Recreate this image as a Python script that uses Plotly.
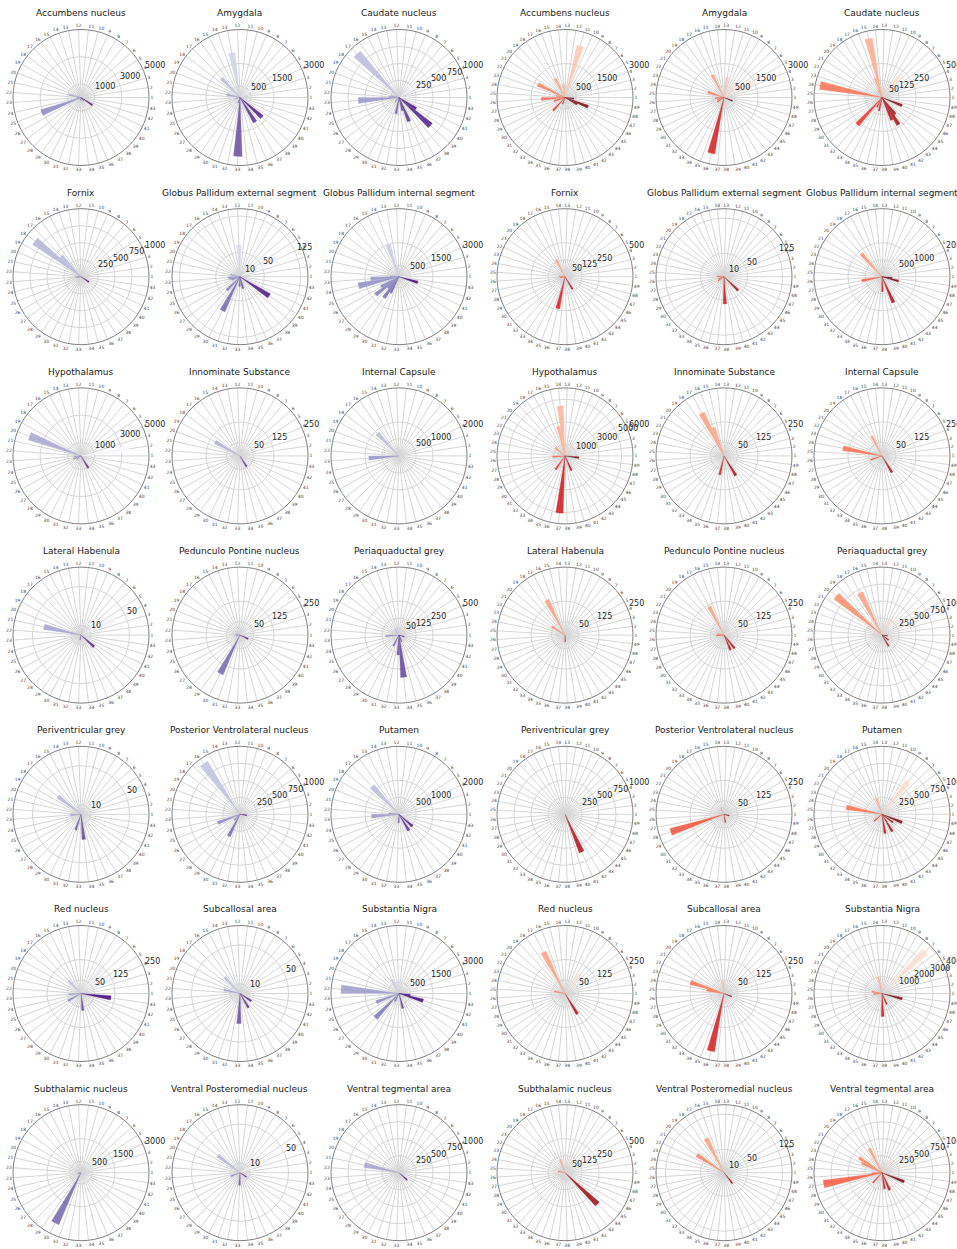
import math
import plotly.graph_objects as go
from plotly.colors import sample_colorscale

W, H = 957, 1249

REGIONS = ["Accumbens nucleus", "Amygdala", "Caudate nucleus",
           "Fornix", "Globus Pallidum external segment", "Globus Pallidum internal segment",
           "Hypothalamus", "Innominate Substance", "Internal Capsule",
           "Lateral Habenula", "Pedunculo Pontine nucleus", "Periaquaductal grey",
           "Periventricular grey", "Posterior Ventrolateral nucleus", "Putamen",
           "Red nucleus", "Subcallosal area", "Substantia Nigra",
           "Subthalamic nucleus", "Ventral Posteromedial nucleus", "Ventral tegmental area"]

N_PURPLE = 43
N_RED = 49

# ---- purple panels (43 sectors): {sector: value}
P_ACCUMBENS = {21: 900, 22: 300, 24: 250, 25: 3100, 33: 200, 38: 300, 40: 1000}
P_AMYGDALA = {5: 700, 13: 2000, 17: 1170, 21: 600, 24: 200, 31: 250, 33: 2600, 37: 1270, 39: 1300}
P_CAUDATE = {1: 140, 5: 500, 17: 890, 21: 120, 22: 150, 23: 600, 28: 80, 32: 240, 35: 200, 36: 380, 39: 620, 40: 300}
P_FORNIX = {17: 420, 18: 855, 22: 60, 23: 90, 24: 50, 40: 140}
P_GPE = {4: 84, 12: 65, 21: 20, 23: 25, 24: 22, 25: 18, 28: 39, 30: 79, 33: 20, 35: 25, 40: 72}
P_GPI = {1: 300, 14: 1500, 22: 400, 23: 1250, 24: 1830, 26: 900, 27: 1300, 28: 700, 29: 1140, 30: 800, 42: 860}
P_HYPOTHALAMUS = {2: 3600, 20: 4050, 23: 500, 25: 600, 27: 400, 37: 1050}
P_INNOMINATE = {19: 105, 37: 46}
P_INTCAPSULE = {17: 920, 23: 890}
P_LHB = {4: 38, 21: 39, 32: 5, 39: 18}
P_PPN = {4: 40, 20: 15, 22: 18, 24: 15, 30: 159, 41: 33}
P_PAG = {14: 60, 16: 50, 23: 98, 30: 90, 33: 146, 34: 312, 36: 50, 42: 40}
P_PVG = {14: 8, 18: 30, 23: 11, 31: 17, 34: 26}
P_PVL = {16: 917, 25: 350, 28: 120, 30: 360, 43: 100}
P_PUTAMEN = {1: 200, 17: 1140, 22: 300, 23: 810, 33: 250, 37: 560, 39: 530}
P_REDNUC = {7: 120, 17: 66, 23: 45, 26: 55, 34: 63, 43: 111}
P_SUBCALLOSAL = {17: 23, 21: 17, 33: 31, 37: 17, 40: 14}
P_SN = {12: 600, 15: 690, 22: 2560, 25: 1070, 28: 1490, 30: 400, 35: 680, 42: 1110, 43: 500}
P_STN = {22: 100, 25: 150, 30: 2490}
P_VPM = {4: 30, 18: 29, 25: 10, 33: 13, 40: 8}
P_VTA = {21: 520, 39: 160}

# ---- red panels (49 sectors): {sector: value}
R_ACCUMBENS = {11: 2360, 14: 600, 17: 940, 22: 1330, 24: 400, 26: 1050, 28: 500, 32: 780, 35: 300, 46: 600, 47: 1100, 49: 400}
R_AMYGDALA = {5: 1430, 8: 780, 12: 900, 17: 1120, 23: 750, 26: 400, 28: 300, 30: 350, 36: 2520, 47: 400}
R_CAUDATE = {8: 200, 15: 444, 16: 150, 17: 60, 24: 463, 32: 270, 34: 80, 36: 100, 41: 180, 42: 234, 43: 156, 47: 158}
R_FORNIX = {17: 140, 25: 40, 27: 35, 36: 240, 42: 107}
R_GPE = {25: 15, 28: 12, 30: 15, 38: 58, 44: 42}
R_GPI = {19: 907, 27: 605, 38: 440, 41: 830, 48: 500, 49: 300}
R_HYPOTHALAMUS = {9: 1170, 14: 4420, 15: 2660, 20: 1100, 26: 1100, 33: 1450, 37: 5060, 41: 1400, 49: 1230}
R_INNOMINATE = {16: 111, 17: 177, 36: 71, 42: 84}
R_INTCAPSULE = {17: 82, 24: 146, 28: 44, 42: 71}
R_LHB = {17: 145, 21: 58, 38: 25}
R_PPN = {5: 40, 17: 118, 24: 25, 26: 28, 41: 60, 43: 62}
R_PAG = {9: 280, 17: 700, 20: 883, 42: 190, 45: 120, 49: 80}
R_PVG = {41: 605}
R_PVL = {17: 25, 28: 206, 39: 30, 48: 20}
R_PUTAMEN = {8: 615, 16: 245, 24: 533, 31: 150, 39: 285, 42: 293, 45: 200, 47: 317}
R_REDNUC = {8: 90, 17: 171, 24: 40, 42: 88}
R_SUBCALLOSAL = {14: 45, 23: 130, 24: 65, 36: 217, 47: 30}
R_SN = {7: 3530, 15: 1030, 24: 600, 26: 500, 38: 1350, 41: 700, 48: 1230}
R_STN = {16: 103, 24: 50, 44: 332}
R_VPM = {17: 82, 21: 69, 43: 29}
R_VTA = {8: 250, 17: 405, 21: 400, 22: 330, 26: 150, 27: 873, 32: 200, 39: 240, 41: 280, 47: 350}

# ---- radial axis: maximum and tick values per panel
P_RMAX = [5000, 3000, 1000, 1000, 140, 3000, 5000, 250, 2000, 70, 250, 500,
          70, 1000, 2000, 250, 70, 3000, 3000, 70, 1000]
P_TICKS = [[1000, 3000, 5000], [500, 1500, 3000], [250, 500, 750, 1000],
           [250, 500, 750, 1000], [10, 50, 125], [500, 1500, 3000],
           [1000, 3000, 5000], [50, 125, 250], [500, 1000, 2000],
           [10, 50], [50, 125, 250], [50, 125, 250, 500],
           [10, 50], [250, 500, 750, 1000], [500, 1000, 2000],
           [50, 125, 250], [10, 50], [500, 1500, 3000],
           [500, 1500, 3000], [10, 50], [250, 500, 750, 1000]]
R_RMAX = [3000, 3000, 500, 500, 145, 2000, 6000, 250, 250, 250, 250, 1000,
          1000, 250, 1000, 250, 250, 4000, 500, 145, 1000]
R_TICKS = [[500, 1500, 3000], [500, 1500, 3000], [50, 125, 250, 500],
           [50, 125, 250, 500], [10, 50, 125], [500, 1000, 2000],
           [1000, 3000, 5000, 6000], [50, 125, 250], [50, 125, 250],
           [50, 125, 250], [50, 125, 250], [250, 500, 750, 1000],
           [250, 500, 750, 1000], [50, 125, 250], [250, 500, 750, 1000],
           [50, 125, 250], [50, 125, 250], [1000, 2000, 3000, 4000],
           [50, 125, 250, 500], [10, 50, 125], [250, 500, 750, 1000]]

PURPLE_DATA = [P_ACCUMBENS, P_AMYGDALA, P_CAUDATE, P_FORNIX, P_GPE, P_GPI,
               P_HYPOTHALAMUS, P_INNOMINATE, P_INTCAPSULE, P_LHB, P_PPN, P_PAG,
               P_PVG, P_PVL, P_PUTAMEN, P_REDNUC, P_SUBCALLOSAL, P_SN,
               P_STN, P_VPM, P_VTA]
RED_DATA = [R_ACCUMBENS, R_AMYGDALA, R_CAUDATE, R_FORNIX, R_GPE, R_GPI,
            R_HYPOTHALAMUS, R_INNOMINATE, R_INTCAPSULE, R_LHB, R_PPN, R_PAG,
            R_PVG, R_PVL, R_PUTAMEN, R_REDNUC, R_SUBCALLOSAL, R_SN,
            R_STN, R_VPM, R_VTA]

COL_X = [81, 240, 399, 565, 724, 882]
ROW_Y0, ROW_DY = 97.5, 179.2
RAD = 68
RLABEL_ANGLE = 22.5

fig = go.Figure()
annotations = []
k = 0
ca, sa = math.cos(math.radians(RLABEL_ANGLE)), math.sin(math.radians(RLABEL_ANGLE))
for row in range(7):
    cy = ROW_Y0 + ROW_DY * row
    for col in range(6):
        k += 1
        cx = COL_X[col]
        red = col >= 3
        idx = row * 3 + (col - 3 if red else col)
        n = N_RED if red else N_PURPLE
        data = (RED_DATA if red else PURPLE_DATA)[idx]
        rmax = (R_RMAX if red else P_RMAX)[idx]
        ticks = (R_TICKS if red else P_TICKS)[idx]
        cscale = "Reds" if red else "Purples"
        sectors = list(range(1, n + 1))
        theta = [(s - 1) * 360.0 / n for s in sectors]
        r = [data.get(s, 0) for s in sectors]
        colors = sample_colorscale(cscale, [(s - 1) / (n - 1) for s in sectors])
        sub = "polar" if k == 1 else f"polar{k}"
        fig.add_trace(go.Barpolar(
            r=r, theta=theta, width=[360.0 / n] * n,
            marker=dict(color=colors, line=dict(color=colors, width=0.3)),
            opacity=0.85, subplot=sub, showlegend=False, hoverinfo="skip"))
        fig.layout[sub] = dict(
            domain=dict(x=[(cx - RAD) / W, (cx + RAD) / W],
                        y=[1 - (cy + RAD) / H, 1 - (cy - RAD) / H]),
            bgcolor="white",
            radialaxis=dict(range=[0, rmax], tickmode="array", tickvals=ticks,
                            showticklabels=False, angle=RLABEL_ANGLE,
                            showline=False, ticks="", gridcolor="#d6d6d6", gridwidth=0.8),
            angularaxis=dict(rotation=0, direction="counterclockwise", tickmode="array",
                             tickvals=theta, ticktext=[str(s) for s in sectors],
                             showline=True, linecolor="#808080", linewidth=1,
                             gridcolor="#d6d6d6", gridwidth=0.8, ticks="",
                             tickfont=dict(family="DejaVu Sans", size=4.5, color="#404040")),
        )
        # radial tick labels: text starts at the tick position along the 22.5 deg ray
        for t in ticks:
            d = t / rmax * RAD
            annotations.append(dict(text=str(t), x=(cx + d * ca) / W, y=1 - (cy - d * sa) / H,
                                    xref="paper", yref="paper", showarrow=False,
                                    xanchor="left", yanchor="bottom", borderpad=0,
                                    font=dict(family="DejaVu Sans", size=8, color="#262626")))
        annotations.append(dict(text=REGIONS[idx], x=cx / W, y=1 - (cy - 84) / H,
                                xref="paper", yref="paper", showarrow=False,
                                xanchor="center", yanchor="middle",
                                font=dict(family="DejaVu Sans", size=9, color="#1a1a1a")))

fig.update_layout(width=W, height=H, margin=dict(l=0, r=0, t=0, b=0),
                  paper_bgcolor="white", plot_bgcolor="white",
                  annotations=annotations, showlegend=False)
fig.write_html("out.html", config={"displayModeBar": False},
               post_script="document.body.style.margin='0';document.body.style.padding='0';"
                           "document.body.style.overflow='hidden';")
